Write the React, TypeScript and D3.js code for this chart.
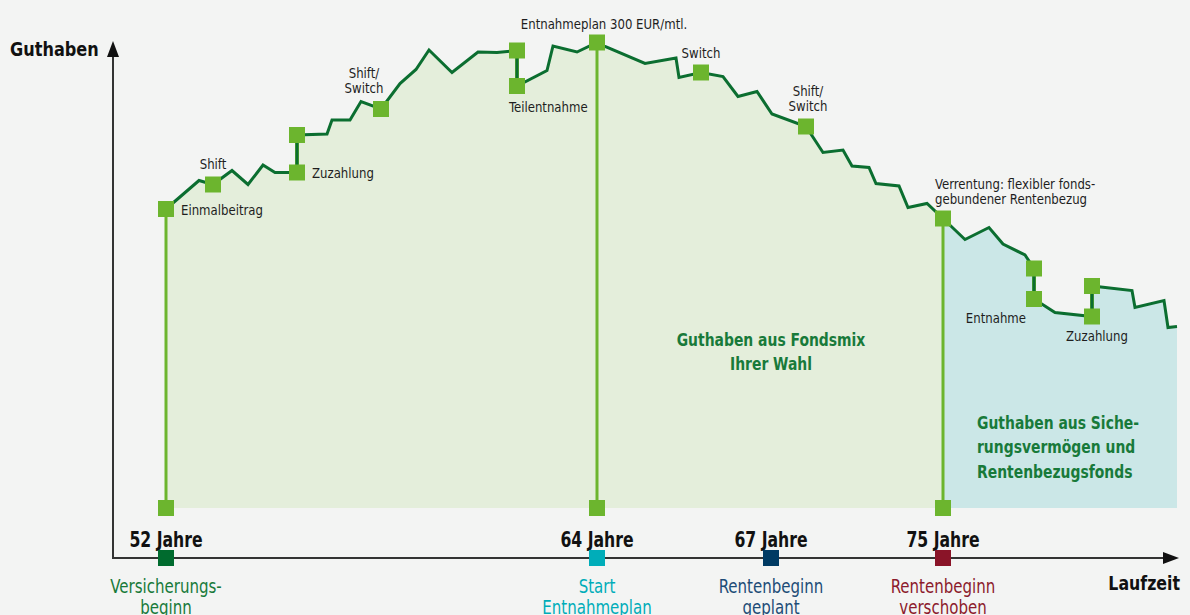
import * as d3 from 'd3';

const W = 1190;
const H = 615;
const FONT = '"Liberation Sans Narrow", "DejaVu Sans Condensed", "Roboto", sans-serif';

// Guthabenverlauf: Laufzeit (Einheiten) und Guthaben (Index)
const laufzeit = [
  5.3, 8.6, 10.0, 11.9, 13.5, 15.0, 16.2, 18.4, 18.4, 21.4, 21.9, 23.7, 24.8, 26.8, 28.7,
  30.3, 31.6, 33.9, 36.5, 38.4, 40.4, 40.4, 43.4, 44.0, 46.4, 48.4, 49.2, 53.2, 56.3, 56.6,
  58.8, 61.0, 62.5, 64.4, 65.9, 69.3, 71.0, 73.0, 73.9, 75.6, 76.3, 78.6, 79.5, 81.4, 83.0,
  85.2, 87.6, 89.0, 91.2, 92.1, 92.1, 94.2, 97.9, 97.9, 101.9, 102.2, 105.1, 105.5, 106.4,
];
const guthaben = [
  69.8, 75.5, 74.7, 77.5, 74.7, 78.6, 77.1, 77.1, 84.6, 84.8, 87.6, 87.6, 91.3, 89.8, 94.9,
  97.7, 101.6, 97.1, 101.2, 101.1, 101.5, 94.4, 97.5, 102.4, 101.2, 103.1, 102.3, 98.9, 100.0, 96.1,
  97.1, 96.3, 92.3, 93.3, 88.8, 86.3, 81.1, 81.6, 78.4, 78.1, 74.9, 74.4, 70.1, 70.9, 67.9,
  63.7, 66.1, 62.8, 60.6, 57.9, 51.8, 49.1, 48.3, 54.4, 53.5, 50.1, 51.5, 46.1, 46.3,
];

// Ereignisse auf der Kurve (Index in den Verlauf)
const ereignisIndex = [0, 2, 7, 8, 13, 20, 21, 25, 30, 35, 44, 49, 50, 52, 53];
// Paare (Zuzahlung / Entnahme): Indizes der verbundenen Marker
const paare = [[7, 8], [20, 21], [49, 50], [52, 53]];
// Senkrechte Linien zur Basis
const lotIndex = [0, 25, 44];

const basis = 10;
const phasenGrenze = 83.0;

const alterX = [5.3, 48.4, 65.8, 83.0];
const alterLabels = ['52 Jahre', '64 Jahre', '67 Jahre', '75 Jahre'];
const alterText = [
  ['Versicherungs-', 'beginn'],
  ['Start', 'Entnahmeplan'],
  ['Rentenbeginn', 'geplant'],
  ['Rentenbeginn', 'verschoben'],
];
const alterFarben = ['#006b2e', '#00adb9', '#003a63', '#8a1428'];
const alterTextFarben = ['#187a3a', '#00adb9', '#1d4c77', '#8c1a2c'];

const x = d3.scaleLinear().domain([0, 107]).range([113, 1183]);
const y = d3.scaleLinear().domain([0, 100]).range([558, 58]);

// schmal gesetzter Text
const NText = (props: {
  x: number; y: number; lines: string[]; size: number; fill: string;
  bold?: boolean; anchor?: string; lh?: number; sx?: number;
}) => {
  const { lines, size, fill, bold, anchor = 'start', lh = size * 1.1, sx = 0.88 } = props;
  return (
    <text
      transform={`translate(${props.x},${props.y}) scale(${sx},1)`}
      textAnchor={anchor as any}
      fontSize={size}
      fontWeight={bold ? 'bold' : 'normal'}
      fill={fill}
    >
      {lines.map((l, k) => (
        <tspan key={k} x={0} y={k * lh}>
          {l}
        </tspan>
      ))}
    </text>
  );
};

const App = () => {
  const pts: [number, number][] = laufzeit.map((l, i) => [l, guthaben[i]]);
  const area = d3
    .area<[number, number]>()
    .x((d) => x(d[0]))
    .y0(y(basis))
    .y1((d) => y(d[1]));
  const line = d3
    .line<[number, number]>()
    .x((d) => x(d[0]))
    .y((d) => y(d[1]));

  const gruen = pts.filter((d) => d[0] <= phasenGrenze);
  const tuerkis = pts.filter((d) => d[0] >= phasenGrenze);

  const P = (i: number) => [x(laufzeit[i]), y(guthaben[i])];
  const sq = 16;
  const markerColor = '#6cb52e';
  const textColor = '#1e1e1e';

  // Beschriftungen der Ereignisse
  const notes: { i: number; lines: string[]; dx: number; dy: number; anchor: string }[] = [
    { i: 0, lines: ['Einmalbeitrag'], dx: 15, dy: 6, anchor: 'start' },
    { i: 2, lines: ['Shift'], dx: 0, dy: -16, anchor: 'middle' },
    { i: 7, lines: ['Zuzahlung'], dx: 15, dy: 5, anchor: 'start' },
    { i: 13, lines: ['Shift/', 'Switch'], dx: -17, dy: -31, anchor: 'middle' },
    { i: 21, lines: ['Teilentnahme'], dx: -8, dy: 26, anchor: 'start' },
    { i: 25, lines: ['Entnahmeplan 300 EUR/mtl.'], dx: 7, dy: -14, anchor: 'middle' },
    { i: 30, lines: ['Switch'], dx: 0, dy: -15, anchor: 'middle' },
    { i: 35, lines: ['Shift/', 'Switch'], dx: 2, dy: -31, anchor: 'middle' },
    { i: 44, lines: ['Verrentung: flexibler fonds-', 'gebundener Rentenbezug'], dx: -8, dy: -30, anchor: 'start' },
    { i: 50, lines: ['Entnahme'], dx: -8, dy: 24, anchor: 'end' },
    { i: 52, lines: ['Zuzahlung'], dx: 5, dy: 24, anchor: 'middle' },
  ];

  return (
    <svg width={W} height={H} style={{ display: 'block', background: '#f3f4f3' }} fontFamily={FONT}>
      <style>{`body{margin:0}`}</style>
      <rect width={W} height={H} fill="#f3f4f3" />

      <path d={area(gruen) || ''} fill="#e4eedb" />
      <path d={area(tuerkis) || ''} fill="#cbe7e7" />

      {/* Lote */}
      {lotIndex.map((i) => (
        <line key={'lot' + i} x1={P(i)[0]} x2={P(i)[0]} y1={P(i)[1]} y2={y(basis)} stroke={markerColor} strokeWidth={3} />
      ))}
      {paare.map(([a, b]) => (
        <line key={'p' + a} x1={P(a)[0]} x2={P(b)[0]} y1={P(a)[1]} y2={P(b)[1]} stroke={markerColor} strokeWidth={4} />
      ))}

      <path d={line(pts) || ''} fill="none" stroke="#0b6e30" strokeWidth={3} strokeLinejoin="miter" />

      {ereignisIndex.map((i) => (
        <rect key={'m' + i} x={P(i)[0] - sq / 2} y={P(i)[1] - sq / 2} width={sq} height={sq} fill={markerColor} />
      ))}
      {lotIndex.map((i) => (
        <rect key={'b' + i} x={P(i)[0] - sq / 2} y={y(basis) - sq / 2} width={sq} height={sq} fill={markerColor} />
      ))}

      {notes.map((n) => {
        const [px, py] = P(n.i);
        return (
          <NText key={'n' + n.i} x={px + n.dx} y={py + n.dy} lines={n.lines} size={14.5} lh={15.5} fill={textColor} anchor={n.anchor} sx={0.9} />
        );
      })}

      {/* Phasen */}
      <NText x={x(65.8)} y={y(42.4)} lines={['Guthaben aus Fondsmix', 'Ihrer Wahl']} size={17} lh={24} bold fill="#187a3a" anchor="middle" sx={0.91} />
      <NText x={x(86.4)} y={y(25.8)} lines={['Guthaben aus Siche-', 'rungsvermögen und', 'Rentenbezugsfonds']} size={17} lh={24.5} bold fill="#187a3a" sx={0.91} />

      {/* Achsen */}
      <line x1={x(0)} x2={x(0)} y1={y(0)} y2={57} stroke="#333" strokeWidth={2} />
      <path d={`M${x(0) - 6},${57} L${x(0)},${41} L${x(0) + 6},${57} Z`} fill="#111" />
      <line x1={x(0) - 1} x2={1164} y1={y(0)} y2={y(0)} stroke="#333" strokeWidth={2} />
      <path d={`M1163,${y(0) - 6} L1179,${y(0)} L1163,${y(0) + 6} Z`} fill="#111" />
      <NText x={10} y={56} lines={['Guthaben']} size={19.5} bold fill="#111" sx={0.92} />
      <NText x={1180} y={590} lines={['Laufzeit']} size={19.5} bold fill="#111" anchor="end" sx={0.9} />

      {alterX.map((a, i) => (
        <g key={'a' + i}>
          <NText x={x(a)} y={547} lines={[alterLabels[i]]} size={20.5} bold fill="#111" anchor="middle" sx={0.85} />
          <rect x={x(a) - sq / 2} y={y(0) - sq / 2} width={sq} height={sq} fill={alterFarben[i]} />
          <NText x={x(a)} y={593} lines={alterText[i]} size={19} lh={21} fill={alterTextFarben[i]} anchor="middle" sx={0.88} />
        </g>
      ))}
    </svg>
  );
};

export default App;
